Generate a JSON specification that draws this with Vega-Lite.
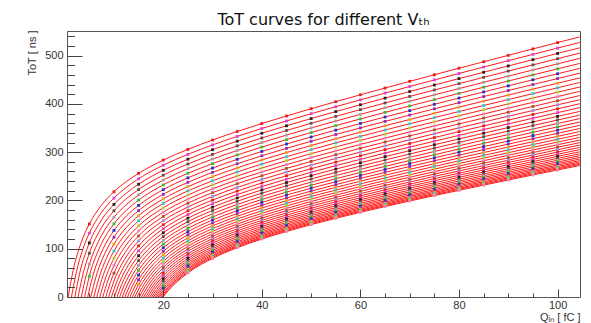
{
"$schema":"https://vega.github.io/schema/vega-lite/v6.json",
"width":513,"height":266,
"autosize":{"type":"none"},
"padding":{"left":67,"top":31,"right":11,"bottom":26},
"background":"white",
"title":{"text":"ToT curves for different Vₜₕ","font":"DejaVu Sans","fontSize":16,"fontWeight":"normal","color":"#111","anchor":"middle","frame":"group","baseline":"alphabetic","offset":8,"dy":19},
"config":{"view":{"stroke":"#555","strokeWidth":1}},
"data":{"values":[
{"vth":0,"q":0.7,"tot":0,"fit":1},{"vth":0,"q":1.7,"tot":54.5,"fit":1},{"vth":0,"q":3.35,"tot":112.9,"fit":1},{"vth":0,"q":5,"tot":151.3},{"vth":0,"q":7.5,"tot":190.6,"fit":1},{"vth":0,"q":10,"tot":218.1},{"vth":0,"q":12.5,"tot":239.1,"fit":1},{"vth":0,"q":15,"tot":256.2},{"vth":0,"q":20,"tot":283.6},{"vth":0,"q":25,"tot":305.8},{"vth":0,"q":30,"tot":325.2},{"vth":0,"q":35,"tot":342.8},{"vth":0,"q":40,"tot":359.3},{"vth":0,"q":45,"tot":374.9},{"vth":0,"q":50,"tot":390},{"vth":0,"q":55,"tot":404.6},{"vth":0,"q":60,"tot":418.9},{"vth":0,"q":65,"tot":432.9},{"vth":0,"q":70,"tot":446.7},{"vth":0,"q":75,"tot":460.4},{"vth":0,"q":80,"tot":473.9},{"vth":0,"q":85,"tot":487.3},{"vth":0,"q":90,"tot":500.6},{"vth":0,"q":95,"tot":513.9},{"vth":0,"q":100,"tot":527},{"vth":0,"q":104.5,"tot":538.8,"fit":1},
{"vth":1,"q":1.38,"tot":0,"fit":1},{"vth":1,"q":2.38,"tot":52.1,"fit":1},{"vth":1,"q":3.7,"tot":99.3,"fit":1},{"vth":1,"q":5,"tot":132.2},{"vth":1,"q":7.5,"tot":175.6,"fit":1},{"vth":1,"q":10,"tot":205},{"vth":1,"q":12.5,"tot":227.1,"fit":1},{"vth":1,"q":15,"tot":244.9},{"vth":1,"q":20,"tot":273},{"vth":1,"q":25,"tot":295.5},{"vth":1,"q":30,"tot":315},{"vth":1,"q":35,"tot":332.7},{"vth":1,"q":40,"tot":349.1},{"vth":1,"q":45,"tot":364.7},{"vth":1,"q":50,"tot":379.7},{"vth":1,"q":55,"tot":394.2},{"vth":1,"q":60,"tot":408.4},{"vth":1,"q":65,"tot":422.4},{"vth":1,"q":70,"tot":436.1},{"vth":1,"q":75,"tot":449.6},{"vth":1,"q":80,"tot":463},{"vth":1,"q":85,"tot":476.3},{"vth":1,"q":90,"tot":489.5},{"vth":1,"q":95,"tot":502.6},{"vth":1,"q":100,"tot":515.6},{"vth":1,"q":104.5,"tot":527.3,"fit":1},
{"vth":2,"q":2.06,"tot":0,"fit":1},{"vth":2,"q":3.06,"tot":50.1,"fit":1},{"vth":2,"q":5,"tot":112},{"vth":2,"q":7.5,"tot":160.1,"fit":1},{"vth":2,"q":10,"tot":191.8},{"vth":2,"q":12.5,"tot":215.2,"fit":1},{"vth":2,"q":15,"tot":233.7},{"vth":2,"q":20,"tot":262.5},{"vth":2,"q":25,"tot":285.4},{"vth":2,"q":30,"tot":305.1},{"vth":2,"q":35,"tot":322.8},{"vth":2,"q":40,"tot":339.2},{"vth":2,"q":45,"tot":354.7},{"vth":2,"q":50,"tot":369.6},{"vth":2,"q":55,"tot":384.1},{"vth":2,"q":60,"tot":398.2},{"vth":2,"q":65,"tot":412},{"vth":2,"q":70,"tot":425.6},{"vth":2,"q":75,"tot":439.1},{"vth":2,"q":80,"tot":452.4},{"vth":2,"q":85,"tot":465.5},{"vth":2,"q":90,"tot":478.6},{"vth":2,"q":95,"tot":491.6},{"vth":2,"q":100,"tot":504.5},{"vth":2,"q":104.5,"tot":516.1,"fit":1},
{"vth":3,"q":2.72,"tot":0,"fit":1},{"vth":3,"q":3.72,"tot":47.7,"fit":1},{"vth":3,"q":5,"tot":90.6},{"vth":3,"q":7.5,"tot":144.3,"fit":1},{"vth":3,"q":10,"tot":178.6},{"vth":3,"q":12.5,"tot":203.3,"fit":1},{"vth":3,"q":15,"tot":222.6},{"vth":3,"q":20,"tot":252.3},{"vth":3,"q":25,"tot":275.5},{"vth":3,"q":30,"tot":295.3},{"vth":3,"q":35,"tot":313},{"vth":3,"q":40,"tot":329.4},{"vth":3,"q":45,"tot":344.9},{"vth":3,"q":50,"tot":359.8},{"vth":3,"q":55,"tot":374.2},{"vth":3,"q":60,"tot":388.2},{"vth":3,"q":65,"tot":401.9},{"vth":3,"q":70,"tot":415.4},{"vth":3,"q":75,"tot":428.8},{"vth":3,"q":80,"tot":441.9},{"vth":3,"q":85,"tot":455},{"vth":3,"q":90,"tot":468},{"vth":3,"q":95,"tot":480.8},{"vth":3,"q":100,"tot":493.6},{"vth":3,"q":104.5,"tot":505.1,"fit":1},
{"vth":4,"q":3.38,"tot":0,"fit":1},{"vth":4,"q":4.38,"tot":45.8,"fit":1},{"vth":4,"q":5,"tot":67.6},{"vth":4,"q":7.5,"tot":128,"fit":1},{"vth":4,"q":10,"tot":165.2},{"vth":4,"q":12.5,"tot":191.4,"fit":1},{"vth":4,"q":15,"tot":211.6},{"vth":4,"q":20,"tot":242.1},{"vth":4,"q":25,"tot":265.8},{"vth":4,"q":30,"tot":285.7},{"vth":4,"q":35,"tot":303.5},{"vth":4,"q":40,"tot":319.9},{"vth":4,"q":45,"tot":335.4},{"vth":4,"q":50,"tot":350.2},{"vth":4,"q":55,"tot":364.5},{"vth":4,"q":60,"tot":378.4},{"vth":4,"q":65,"tot":392},{"vth":4,"q":70,"tot":405.4},{"vth":4,"q":75,"tot":418.7},{"vth":4,"q":80,"tot":431.7},{"vth":4,"q":85,"tot":444.7},{"vth":4,"q":90,"tot":457.5},{"vth":4,"q":95,"tot":470.3},{"vth":4,"q":100,"tot":483},{"vth":4,"q":104.5,"tot":494.3,"fit":1},
{"vth":5,"q":4.03,"tot":0,"fit":1},{"vth":5,"q":5,"tot":42.8},{"vth":5,"q":7.5,"tot":111.1,"fit":1},{"vth":5,"q":10,"tot":151.6},{"vth":5,"q":12.5,"tot":179.5,"fit":1},{"vth":5,"q":15,"tot":200.7},{"vth":5,"q":20,"tot":232.2},{"vth":5,"q":25,"tot":256.2},{"vth":5,"q":30,"tot":276.3},{"vth":5,"q":35,"tot":294.2},{"vth":5,"q":40,"tot":310.6},{"vth":5,"q":45,"tot":326},{"vth":5,"q":50,"tot":340.7},{"vth":5,"q":55,"tot":355},{"vth":5,"q":60,"tot":368.8},{"vth":5,"q":65,"tot":382.4},{"vth":5,"q":70,"tot":395.7},{"vth":5,"q":75,"tot":408.8},{"vth":5,"q":80,"tot":421.8},{"vth":5,"q":85,"tot":434.6},{"vth":5,"q":90,"tot":447.4},{"vth":5,"q":95,"tot":460},{"vth":5,"q":100,"tot":472.6},{"vth":5,"q":104.5,"tot":483.8,"fit":1},
{"vth":6,"q":4.67,"tot":0,"fit":1},{"vth":6,"q":5.67,"tot":42,"fit":1},{"vth":6,"q":7.84,"tot":100.9,"fit":1},{"vth":6,"q":10,"tot":137.9},{"vth":6,"q":12.5,"tot":167.7,"fit":1},{"vth":6,"q":15,"tot":189.8},{"vth":6,"q":20,"tot":222.4},{"vth":6,"q":25,"tot":246.8},{"vth":6,"q":30,"tot":267.1},{"vth":6,"q":35,"tot":285.1},{"vth":6,"q":40,"tot":301.5},{"vth":6,"q":45,"tot":316.9},{"vth":6,"q":50,"tot":331.5},{"vth":6,"q":55,"tot":345.7},{"vth":6,"q":60,"tot":359.5},{"vth":6,"q":65,"tot":372.9},{"vth":6,"q":70,"tot":386.1},{"vth":6,"q":75,"tot":399.2},{"vth":6,"q":80,"tot":412},{"vth":6,"q":85,"tot":424.8},{"vth":6,"q":90,"tot":437.4},{"vth":6,"q":95,"tot":450},{"vth":6,"q":100,"tot":462.4},{"vth":6,"q":104.5,"tot":473.6,"fit":1},
{"vth":7,"q":5.3,"tot":0,"fit":1},{"vth":7,"q":6.3,"tot":40.1,"fit":1},{"vth":7,"q":8.15,"tot":90.3,"fit":1},{"vth":7,"q":10,"tot":123.9},{"vth":7,"q":12.5,"tot":155.8,"fit":1},{"vth":7,"q":15,"tot":179.1},{"vth":7,"q":20,"tot":212.7},{"vth":7,"q":25,"tot":237.6},{"vth":7,"q":30,"tot":258.1},{"vth":7,"q":35,"tot":276.1},{"vth":7,"q":40,"tot":292.6},{"vth":7,"q":45,"tot":307.9},{"vth":7,"q":50,"tot":322.6},{"vth":7,"q":55,"tot":336.6},{"vth":7,"q":60,"tot":350.3},{"vth":7,"q":65,"tot":363.7},{"vth":7,"q":70,"tot":376.8},{"vth":7,"q":75,"tot":389.8},{"vth":7,"q":80,"tot":402.5},{"vth":7,"q":85,"tot":415.2},{"vth":7,"q":90,"tot":427.7},{"vth":7,"q":95,"tot":440.1},{"vth":7,"q":100,"tot":452.5},{"vth":7,"q":104.5,"tot":463.6,"fit":1},
{"vth":8,"q":5.92,"tot":0,"fit":1},{"vth":8,"q":6.92,"tot":38.2,"fit":1},{"vth":8,"q":8.46,"tot":80,"fit":1},{"vth":8,"q":10,"tot":109.7},{"vth":8,"q":12.5,"tot":143.9,"fit":1},{"vth":8,"q":15,"tot":168.4},{"vth":8,"q":20,"tot":203.2},{"vth":8,"q":25,"tot":228.6},{"vth":8,"q":30,"tot":249.3},{"vth":8,"q":35,"tot":267.4},{"vth":8,"q":40,"tot":283.9},{"vth":8,"q":45,"tot":299.2},{"vth":8,"q":50,"tot":313.8},{"vth":8,"q":55,"tot":327.8},{"vth":8,"q":60,"tot":341.4},{"vth":8,"q":65,"tot":354.7},{"vth":8,"q":70,"tot":367.7},{"vth":8,"q":75,"tot":380.6},{"vth":8,"q":80,"tot":393.3},{"vth":8,"q":85,"tot":405.8},{"vth":8,"q":90,"tot":418.2},{"vth":8,"q":95,"tot":430.6},{"vth":8,"q":100,"tot":442.8},{"vth":8,"q":104.5,"tot":453.8,"fit":1},
{"vth":9,"q":6.54,"tot":0,"fit":1},{"vth":9,"q":7.54,"tot":36.7,"fit":1},{"vth":9,"q":8.77,"tot":70,"fit":1},{"vth":9,"q":10,"tot":95.2},{"vth":9,"q":12.5,"tot":132,"fit":1},{"vth":9,"q":15,"tot":157.9},{"vth":9,"q":20,"tot":193.9},{"vth":9,"q":25,"tot":219.8},{"vth":9,"q":30,"tot":240.7},{"vth":9,"q":35,"tot":258.9},{"vth":9,"q":40,"tot":275.4},{"vth":9,"q":45,"tot":290.7},{"vth":9,"q":50,"tot":305.2},{"vth":9,"q":55,"tot":319.2},{"vth":9,"q":60,"tot":332.7},{"vth":9,"q":65,"tot":345.9},{"vth":9,"q":70,"tot":358.9},{"vth":9,"q":75,"tot":371.6},{"vth":9,"q":80,"tot":384.2},{"vth":9,"q":85,"tot":396.7},{"vth":9,"q":90,"tot":409},{"vth":9,"q":95,"tot":421.2},{"vth":9,"q":100,"tot":433.4},{"vth":9,"q":104.5,"tot":444.3,"fit":1},
{"vth":10,"q":7.14,"tot":0,"fit":1},{"vth":10,"q":8.14,"tot":34.9,"fit":1},{"vth":10,"q":10,"tot":80.3},{"vth":10,"q":12.5,"tot":120,"fit":1},{"vth":10,"q":15,"tot":147.4},{"vth":10,"q":20,"tot":184.7},{"vth":10,"q":25,"tot":211.2},{"vth":10,"q":30,"tot":232.3},{"vth":10,"q":35,"tot":250.6},{"vth":10,"q":40,"tot":267.1},{"vth":10,"q":45,"tot":282.4},{"vth":10,"q":50,"tot":296.9},{"vth":10,"q":55,"tot":310.8},{"vth":10,"q":60,"tot":324.3},{"vth":10,"q":65,"tot":337.4},{"vth":10,"q":70,"tot":350.3},{"vth":10,"q":75,"tot":362.9},{"vth":10,"q":80,"tot":375.4},{"vth":10,"q":85,"tot":387.8},{"vth":10,"q":90,"tot":400},{"vth":10,"q":95,"tot":412.1},{"vth":10,"q":100,"tot":424.2},{"vth":10,"q":104.5,"tot":435,"fit":1},
{"vth":11,"q":7.74,"tot":0,"fit":1},{"vth":11,"q":8.74,"tot":33.4,"fit":1},{"vth":11,"q":10,"tot":65.1},{"vth":11,"q":12.5,"tot":108,"fit":1},{"vth":11,"q":15,"tot":136.9},{"vth":11,"q":20,"tot":175.7},{"vth":11,"q":25,"tot":202.7},{"vth":11,"q":30,"tot":224.1},{"vth":11,"q":35,"tot":242.5},{"vth":11,"q":40,"tot":259},{"vth":11,"q":45,"tot":274.3},{"vth":11,"q":50,"tot":288.8},{"vth":11,"q":55,"tot":302.6},{"vth":11,"q":60,"tot":316},{"vth":11,"q":65,"tot":329.1},{"vth":11,"q":70,"tot":341.8},{"vth":11,"q":75,"tot":354.4},{"vth":11,"q":80,"tot":366.8},{"vth":11,"q":85,"tot":379.1},{"vth":11,"q":90,"tot":391.2},{"vth":11,"q":95,"tot":403.3},{"vth":11,"q":100,"tot":415.2},{"vth":11,"q":104.5,"tot":425.9,"fit":1},
{"vth":12,"q":8.33,"tot":0,"fit":1},{"vth":12,"q":9.33,"tot":32,"fit":1},{"vth":12,"q":10,"tot":49.3},{"vth":12,"q":12.5,"tot":95.8,"fit":1},{"vth":12,"q":15,"tot":126.5},{"vth":12,"q":20,"tot":166.9},{"vth":12,"q":25,"tot":194.4},{"vth":12,"q":30,"tot":216.1},{"vth":12,"q":35,"tot":234.6},{"vth":12,"q":40,"tot":251.2},{"vth":12,"q":45,"tot":266.4},{"vth":12,"q":50,"tot":280.8},{"vth":12,"q":55,"tot":294.6},{"vth":12,"q":60,"tot":308},{"vth":12,"q":65,"tot":321},{"vth":12,"q":70,"tot":333.7},{"vth":12,"q":75,"tot":346.2},{"vth":12,"q":80,"tot":358.5},{"vth":12,"q":85,"tot":370.7},{"vth":12,"q":90,"tot":382.7},{"vth":12,"q":95,"tot":394.7},{"vth":12,"q":100,"tot":406.5},{"vth":12,"q":104.5,"tot":417.2,"fit":1},
{"vth":13,"q":8.92,"tot":0,"fit":1},{"vth":13,"q":9.92,"tot":30.9,"fit":1},{"vth":13,"q":12.45,"tot":82.8,"fit":1},{"vth":13,"q":15,"tot":116.2},{"vth":13,"q":20,"tot":158.2},{"vth":13,"q":25,"tot":186.4},{"vth":13,"q":30,"tot":208.3},{"vth":13,"q":35,"tot":226.9},{"vth":13,"q":40,"tot":243.5},{"vth":13,"q":45,"tot":258.8},{"vth":13,"q":50,"tot":273.2},{"vth":13,"q":55,"tot":286.9},{"vth":13,"q":60,"tot":300.2},{"vth":13,"q":65,"tot":313.1},{"vth":13,"q":70,"tot":325.7},{"vth":13,"q":75,"tot":338.1},{"vth":13,"q":80,"tot":350.4},{"vth":13,"q":85,"tot":362.4},{"vth":13,"q":90,"tot":374.4},{"vth":13,"q":95,"tot":386.3},{"vth":13,"q":100,"tot":398.1},{"vth":13,"q":104.5,"tot":408.6,"fit":1},
{"vth":14,"q":9.49,"tot":0,"fit":1},{"vth":14,"q":10.49,"tot":29.5,"fit":1},{"vth":14,"q":12.75,"tot":75.5,"fit":1},{"vth":14,"q":15,"tot":106},{"vth":14,"q":17.5,"tot":130.6,"fit":1},{"vth":14,"q":20,"tot":149.7},{"vth":14,"q":25,"tot":178.5},{"vth":14,"q":30,"tot":200.7},{"vth":14,"q":35,"tot":219.4},{"vth":14,"q":40,"tot":236.1},{"vth":14,"q":45,"tot":251.3},{"vth":14,"q":50,"tot":265.7},{"vth":14,"q":55,"tot":279.4},{"vth":14,"q":60,"tot":292.6},{"vth":14,"q":65,"tot":305.4},{"vth":14,"q":70,"tot":318},{"vth":14,"q":75,"tot":330.3},{"vth":14,"q":80,"tot":342.5},{"vth":14,"q":85,"tot":354.5},{"vth":14,"q":90,"tot":366.4},{"vth":14,"q":95,"tot":378.2},{"vth":14,"q":100,"tot":389.8},{"vth":14,"q":104.5,"tot":400.3,"fit":1},
{"vth":15,"q":10.05,"tot":0,"fit":1},{"vth":15,"q":11.05,"tot":28.1,"fit":1},{"vth":15,"q":13,"tot":67.5,"fit":1},{"vth":15,"q":15,"tot":95.8},{"vth":15,"q":17.5,"tot":121.6,"fit":1},{"vth":15,"q":20,"tot":141.3},{"vth":15,"q":25,"tot":170.8},{"vth":15,"q":30,"tot":193.3},{"vth":15,"q":35,"tot":212.2},{"vth":15,"q":40,"tot":228.8},{"vth":15,"q":45,"tot":244.1},{"vth":15,"q":50,"tot":258.4},{"vth":15,"q":55,"tot":272.1},{"vth":15,"q":60,"tot":285.2},{"vth":15,"q":65,"tot":298},{"vth":15,"q":70,"tot":310.5},{"vth":15,"q":75,"tot":322.7},{"vth":15,"q":80,"tot":334.8},{"vth":15,"q":85,"tot":346.8},{"vth":15,"q":90,"tot":358.6},{"vth":15,"q":95,"tot":370.3},{"vth":15,"q":100,"tot":381.9},{"vth":15,"q":104.5,"tot":392.3,"fit":1},
{"vth":16,"q":10.61,"tot":0,"fit":1},{"vth":16,"q":11.61,"tot":27.1,"fit":1},{"vth":16,"q":13.3,"tot":60.8,"fit":1},{"vth":16,"q":15,"tot":85.6},{"vth":16,"q":17.5,"tot":112.7,"fit":1},{"vth":16,"q":20,"tot":133.1},{"vth":16,"q":25,"tot":163.3},{"vth":16,"q":30,"tot":186.1},{"vth":16,"q":35,"tot":205.1},{"vth":16,"q":40,"tot":221.8},{"vth":16,"q":45,"tot":237.1},{"vth":16,"q":50,"tot":251.4},{"vth":16,"q":55,"tot":265},{"vth":16,"q":60,"tot":278.1},{"vth":16,"q":65,"tot":290.8},{"vth":16,"q":70,"tot":303.2},{"vth":16,"q":75,"tot":315.4},{"vth":16,"q":80,"tot":327.4},{"vth":16,"q":85,"tot":339.3},{"vth":16,"q":90,"tot":351},{"vth":16,"q":95,"tot":362.6},{"vth":16,"q":100,"tot":374.1},{"vth":16,"q":104.5,"tot":384.4,"fit":1},
{"vth":17,"q":11.15,"tot":0,"fit":1},{"vth":17,"q":12.15,"tot":25.8,"fit":1},{"vth":17,"q":13.6,"tot":54.4,"fit":1},{"vth":17,"q":15,"tot":75.5},{"vth":17,"q":17.5,"tot":103.9,"fit":1},{"vth":17,"q":20,"tot":125.1},{"vth":17,"q":25,"tot":156},{"vth":17,"q":30,"tot":179.2},{"vth":17,"q":35,"tot":198.2},{"vth":17,"q":40,"tot":215},{"vth":17,"q":45,"tot":230.3},{"vth":17,"q":50,"tot":244.5},{"vth":17,"q":55,"tot":258.1},{"vth":17,"q":60,"tot":271.2},{"vth":17,"q":65,"tot":283.8},{"vth":17,"q":70,"tot":296.2},{"vth":17,"q":75,"tot":308.3},{"vth":17,"q":80,"tot":320.2},{"vth":17,"q":85,"tot":332},{"vth":17,"q":90,"tot":343.6},{"vth":17,"q":95,"tot":355.2},{"vth":17,"q":100,"tot":366.6},{"vth":17,"q":104.5,"tot":376.9,"fit":1},
{"vth":18,"q":11.69,"tot":0,"fit":1},{"vth":18,"q":12.69,"tot":24.8,"fit":1},{"vth":18,"q":15,"tot":65.5},{"vth":18,"q":17.5,"tot":95.3,"fit":1},{"vth":18,"q":20,"tot":117.2},{"vth":18,"q":25,"tot":148.9},{"vth":18,"q":30,"tot":172.4},{"vth":18,"q":35,"tot":191.6},{"vth":18,"q":40,"tot":208.4},{"vth":18,"q":45,"tot":223.7},{"vth":18,"q":50,"tot":237.9},{"vth":18,"q":55,"tot":251.5},{"vth":18,"q":60,"tot":264.5},{"vth":18,"q":65,"tot":277.1},{"vth":18,"q":70,"tot":289.4},{"vth":18,"q":75,"tot":301.4},{"vth":18,"q":80,"tot":313.3},{"vth":18,"q":85,"tot":325},{"vth":18,"q":90,"tot":336.5},{"vth":18,"q":95,"tot":348},{"vth":18,"q":100,"tot":359.4},{"vth":18,"q":104.5,"tot":369.5,"fit":1},
{"vth":19,"q":12.22,"tot":0,"fit":1},{"vth":19,"q":13.22,"tot":23.8,"fit":1},{"vth":19,"q":15,"tot":55.5},{"vth":19,"q":17.5,"tot":86.8,"fit":1},{"vth":19,"q":20,"tot":109.5},{"vth":19,"q":25,"tot":142},{"vth":19,"q":30,"tot":165.8},{"vth":19,"q":35,"tot":185.2},{"vth":19,"q":40,"tot":202},{"vth":19,"q":45,"tot":217.3},{"vth":19,"q":50,"tot":231.5},{"vth":19,"q":55,"tot":245},{"vth":19,"q":60,"tot":258},{"vth":19,"q":65,"tot":270.5},{"vth":19,"q":70,"tot":282.8},{"vth":19,"q":75,"tot":294.7},{"vth":19,"q":80,"tot":306.5},{"vth":19,"q":85,"tot":318.2},{"vth":19,"q":90,"tot":329.7},{"vth":19,"q":95,"tot":341.1},{"vth":19,"q":100,"tot":352.4},{"vth":19,"q":104.5,"tot":362.5,"fit":1},
{"vth":20,"q":12.73,"tot":0,"fit":1},{"vth":20,"q":13.73,"tot":22.7,"fit":1},{"vth":20,"q":15,"tot":45.6},{"vth":20,"q":17.5,"tot":78.4,"fit":1},{"vth":20,"q":20,"tot":102},{"vth":20,"q":25,"tot":135.3},{"vth":20,"q":30,"tot":159.4},{"vth":20,"q":35,"tot":178.9},{"vth":20,"q":40,"tot":195.9},{"vth":20,"q":45,"tot":211.2},{"vth":20,"q":50,"tot":225.4},{"vth":20,"q":55,"tot":238.8},{"vth":20,"q":60,"tot":251.7},{"vth":20,"q":65,"tot":264.2},{"vth":20,"q":70,"tot":276.4},{"vth":20,"q":75,"tot":288.3},{"vth":20,"q":80,"tot":300},{"vth":20,"q":85,"tot":311.6},{"vth":20,"q":90,"tot":323},{"vth":20,"q":95,"tot":334.4},{"vth":20,"q":100,"tot":345.6},{"vth":20,"q":104.5,"tot":355.6,"fit":1},
{"vth":21,"q":13.24,"tot":0,"fit":1},{"vth":21,"q":14.24,"tot":21.9,"fit":1},{"vth":21,"q":15,"tot":35.7},{"vth":21,"q":17.5,"tot":70.2,"fit":1},{"vth":21,"q":20,"tot":94.7},{"vth":21,"q":25,"tot":128.8},{"vth":21,"q":30,"tot":153.3},{"vth":21,"q":35,"tot":172.9},{"vth":21,"q":40,"tot":189.9},{"vth":21,"q":45,"tot":205.2},{"vth":21,"q":50,"tot":219.4},{"vth":21,"q":55,"tot":232.8},{"vth":21,"q":60,"tot":245.7},{"vth":21,"q":65,"tot":258.1},{"vth":21,"q":70,"tot":270.3},{"vth":21,"q":75,"tot":282.1},{"vth":21,"q":80,"tot":293.8},{"vth":21,"q":85,"tot":305.3},{"vth":21,"q":90,"tot":316.7},{"vth":21,"q":95,"tot":327.9},{"vth":21,"q":100,"tot":339.1},{"vth":21,"q":104.5,"tot":349,"fit":1},
{"vth":22,"q":13.74,"tot":0,"fit":1},{"vth":22,"q":15,"tot":25.9},{"vth":22,"q":17.5,"tot":62.2,"fit":1},{"vth":22,"q":20,"tot":87.6},{"vth":22,"q":25,"tot":122.5},{"vth":22,"q":30,"tot":147.3},{"vth":22,"q":35,"tot":167.1},{"vth":22,"q":40,"tot":184.2},{"vth":22,"q":45,"tot":199.5},{"vth":22,"q":50,"tot":213.7},{"vth":22,"q":55,"tot":227.1},{"vth":22,"q":60,"tot":239.9},{"vth":22,"q":65,"tot":252.3},{"vth":22,"q":70,"tot":264.3},{"vth":22,"q":75,"tot":276.2},{"vth":22,"q":80,"tot":287.8},{"vth":22,"q":85,"tot":299.2},{"vth":22,"q":90,"tot":310.5},{"vth":22,"q":95,"tot":321.7},{"vth":22,"q":100,"tot":332.8},{"vth":22,"q":104.5,"tot":342.7,"fit":1},
{"vth":23,"q":14.22,"tot":0,"fit":1},{"vth":23,"q":15.22,"tot":20.2,"fit":1},{"vth":23,"q":17.61,"tot":55.6,"fit":1},{"vth":23,"q":20,"tot":80.6},{"vth":23,"q":25,"tot":116.4},{"vth":23,"q":30,"tot":141.6},{"vth":23,"q":35,"tot":161.6},{"vth":23,"q":40,"tot":178.6},{"vth":23,"q":45,"tot":194},{"vth":23,"q":50,"tot":208.2},{"vth":23,"q":55,"tot":221.5},{"vth":23,"q":60,"tot":234.3},{"vth":23,"q":65,"tot":246.6},{"vth":23,"q":70,"tot":258.7},{"vth":23,"q":75,"tot":270.4},{"vth":23,"q":80,"tot":282},{"vth":23,"q":85,"tot":293.3},{"vth":23,"q":90,"tot":304.6},{"vth":23,"q":95,"tot":315.7},{"vth":23,"q":100,"tot":326.7},{"vth":23,"q":104.5,"tot":336.6,"fit":1},
{"vth":24,"q":14.7,"tot":0,"fit":1},{"vth":24,"q":15.7,"tot":19.5,"fit":1},{"vth":24,"q":17.85,"tot":50.9,"fit":1},{"vth":24,"q":20,"tot":73.8},{"vth":24,"q":25,"tot":110.6},{"vth":24,"q":30,"tot":136},{"vth":24,"q":35,"tot":156.2},{"vth":24,"q":40,"tot":173.3},{"vth":24,"q":45,"tot":188.7},{"vth":24,"q":50,"tot":202.9},{"vth":24,"q":55,"tot":216.2},{"vth":24,"q":60,"tot":228.9},{"vth":24,"q":65,"tot":241.2},{"vth":24,"q":70,"tot":253.2},{"vth":24,"q":75,"tot":264.9},{"vth":24,"q":80,"tot":276.4},{"vth":24,"q":85,"tot":287.7},{"vth":24,"q":90,"tot":298.9},{"vth":24,"q":95,"tot":310},{"vth":24,"q":100,"tot":320.9},{"vth":24,"q":104.5,"tot":330.7,"fit":1},
{"vth":25,"q":15.16,"tot":0,"fit":1},{"vth":25,"q":16.16,"tot":18.8,"fit":1},{"vth":25,"q":18.08,"tot":46.4,"fit":1},{"vth":25,"q":20,"tot":67.3},{"vth":25,"q":25,"tot":104.9},{"vth":25,"q":30,"tot":130.7},{"vth":25,"q":35,"tot":151},{"vth":25,"q":40,"tot":168.3},{"vth":25,"q":45,"tot":183.6},{"vth":25,"q":50,"tot":197.8},{"vth":25,"q":55,"tot":211.1},{"vth":25,"q":60,"tot":223.8},{"vth":25,"q":65,"tot":236.1},{"vth":25,"q":70,"tot":248},{"vth":25,"q":75,"tot":259.6},{"vth":25,"q":80,"tot":271.1},{"vth":25,"q":85,"tot":282.3},{"vth":25,"q":90,"tot":293.5},{"vth":25,"q":95,"tot":304.5},{"vth":25,"q":100,"tot":315.4},{"vth":25,"q":104.5,"tot":325.1,"fit":1},
{"vth":26,"q":15.61,"tot":0,"fit":1},{"vth":26,"q":16.61,"tot":18.1,"fit":1},{"vth":26,"q":18.3,"tot":42.1,"fit":1},{"vth":26,"q":20,"tot":60.9},{"vth":26,"q":25,"tot":99.5},{"vth":26,"q":30,"tot":125.7},{"vth":26,"q":35,"tot":146.1},{"vth":26,"q":40,"tot":163.4},{"vth":26,"q":45,"tot":178.8},{"vth":26,"q":50,"tot":192.9},{"vth":26,"q":55,"tot":206.2},{"vth":26,"q":60,"tot":218.9},{"vth":26,"q":65,"tot":231.1},{"vth":26,"q":70,"tot":243},{"vth":26,"q":75,"tot":254.6},{"vth":26,"q":80,"tot":266},{"vth":26,"q":85,"tot":277.2},{"vth":26,"q":90,"tot":288.3},{"vth":26,"q":95,"tot":299.2},{"vth":26,"q":100,"tot":310.1},{"vth":26,"q":104.5,"tot":319.8,"fit":1},
{"vth":27,"q":16.04,"tot":0,"fit":1},{"vth":27,"q":17.04,"tot":17.4,"fit":1},{"vth":27,"q":20,"tot":54.8},{"vth":27,"q":25,"tot":94.2},{"vth":27,"q":30,"tot":120.8},{"vth":27,"q":35,"tot":141.4},{"vth":27,"q":40,"tot":158.7},{"vth":27,"q":45,"tot":174.1},{"vth":27,"q":50,"tot":188.3},{"vth":27,"q":55,"tot":201.6},{"vth":27,"q":60,"tot":214.2},{"vth":27,"q":65,"tot":226.4},{"vth":27,"q":70,"tot":238.2},{"vth":27,"q":75,"tot":249.8},{"vth":27,"q":80,"tot":261.1},{"vth":27,"q":85,"tot":272.3},{"vth":27,"q":90,"tot":283.3},{"vth":27,"q":95,"tot":294.2},{"vth":27,"q":100,"tot":305},{"vth":27,"q":104.5,"tot":314.7,"fit":1},
{"vth":28,"q":16.46,"tot":0,"fit":1},{"vth":28,"q":17.46,"tot":16.8,"fit":1},{"vth":28,"q":20,"tot":48.9},{"vth":28,"q":25,"tot":89.2},{"vth":28,"q":30,"tot":116.1},{"vth":28,"q":35,"tot":136.9},{"vth":28,"q":40,"tot":154.3},{"vth":28,"q":45,"tot":169.7},{"vth":28,"q":50,"tot":183.9},{"vth":28,"q":55,"tot":197.1},{"vth":28,"q":60,"tot":209.7},{"vth":28,"q":65,"tot":221.9},{"vth":28,"q":70,"tot":233.7},{"vth":28,"q":75,"tot":245.2},{"vth":28,"q":80,"tot":256.5},{"vth":28,"q":85,"tot":267.6},{"vth":28,"q":90,"tot":278.6},{"vth":28,"q":95,"tot":289.4},{"vth":28,"q":100,"tot":300.2},{"vth":28,"q":104.5,"tot":309.8,"fit":1},
{"vth":29,"q":16.87,"tot":0,"fit":1},{"vth":29,"q":17.87,"tot":16.3,"fit":1},{"vth":29,"q":20,"tot":43.2},{"vth":29,"q":25,"tot":84.5},{"vth":29,"q":30,"tot":111.7},{"vth":29,"q":35,"tot":132.6},{"vth":29,"q":40,"tot":150.1},{"vth":29,"q":45,"tot":165.5},{"vth":29,"q":50,"tot":179.7},{"vth":29,"q":55,"tot":192.9},{"vth":29,"q":60,"tot":205.5},{"vth":29,"q":65,"tot":217.6},{"vth":29,"q":70,"tot":229.4},{"vth":29,"q":75,"tot":240.8},{"vth":29,"q":80,"tot":252.1},{"vth":29,"q":85,"tot":263.2},{"vth":29,"q":90,"tot":274.1},{"vth":29,"q":95,"tot":284.9},{"vth":29,"q":100,"tot":295.6},{"vth":29,"q":104.5,"tot":305.2,"fit":1},
{"vth":30,"q":17.26,"tot":0,"fit":1},{"vth":30,"q":18.26,"tot":15.7,"fit":1},{"vth":30,"q":20,"tot":37.7},{"vth":30,"q":25,"tot":79.9},{"vth":30,"q":30,"tot":107.5},{"vth":30,"q":35,"tot":128.5},{"vth":30,"q":40,"tot":146.1},{"vth":30,"q":45,"tot":161.6},{"vth":30,"q":50,"tot":175.7},{"vth":30,"q":55,"tot":188.9},{"vth":30,"q":60,"tot":201.5},{"vth":30,"q":65,"tot":213.6},{"vth":30,"q":70,"tot":225.3},{"vth":30,"q":75,"tot":236.7},{"vth":30,"q":80,"tot":247.9},{"vth":30,"q":85,"tot":259},{"vth":30,"q":90,"tot":269.8},{"vth":30,"q":95,"tot":280.6},{"vth":30,"q":100,"tot":291.3},{"vth":30,"q":104.5,"tot":300.8,"fit":1},
{"vth":31,"q":17.64,"tot":0,"fit":1},{"vth":31,"q":18.64,"tot":15.3,"fit":1},{"vth":31,"q":20,"tot":32.5},{"vth":31,"q":25,"tot":75.6},{"vth":31,"q":30,"tot":103.5},{"vth":31,"q":35,"tot":124.7},{"vth":31,"q":40,"tot":142.3},{"vth":31,"q":45,"tot":157.8},{"vth":31,"q":50,"tot":171.9},{"vth":31,"q":55,"tot":185.1},{"vth":31,"q":60,"tot":197.7},{"vth":31,"q":65,"tot":209.7},{"vth":31,"q":70,"tot":221.4},{"vth":31,"q":75,"tot":232.8},{"vth":31,"q":80,"tot":244},{"vth":31,"q":85,"tot":255},{"vth":31,"q":90,"tot":265.8},{"vth":31,"q":95,"tot":276.5},{"vth":31,"q":100,"tot":287.2},{"vth":31,"q":104.5,"tot":296.6,"fit":1},
{"vth":32,"q":18,"tot":0,"fit":1},{"vth":32,"q":19,"tot":14.9,"fit":1},{"vth":32,"q":20,"tot":27.5},{"vth":32,"q":25,"tot":71.5},{"vth":32,"q":30,"tot":99.8},{"vth":32,"q":35,"tot":121.1},{"vth":32,"q":40,"tot":138.8},{"vth":32,"q":45,"tot":154.3},{"vth":32,"q":50,"tot":168.4},{"vth":32,"q":55,"tot":181.6},{"vth":32,"q":60,"tot":194.1},{"vth":32,"q":65,"tot":206.1},{"vth":32,"q":70,"tot":217.8},{"vth":32,"q":75,"tot":229.2},{"vth":32,"q":80,"tot":240.3},{"vth":32,"q":85,"tot":251.2},{"vth":32,"q":90,"tot":262.1},{"vth":32,"q":95,"tot":272.7},{"vth":32,"q":100,"tot":283.3},{"vth":32,"q":104.5,"tot":292.7,"fit":1},
{"vth":33,"q":18.33,"tot":0,"fit":1},{"vth":33,"q":19.33,"tot":14.4,"fit":1},{"vth":33,"q":20,"tot":22.8},{"vth":33,"q":25,"tot":67.7},{"vth":33,"q":30,"tot":96.2},{"vth":33,"q":35,"tot":117.7},{"vth":33,"q":40,"tot":135.4},{"vth":33,"q":45,"tot":151},{"vth":33,"q":50,"tot":165.1},{"vth":33,"q":55,"tot":178.3},{"vth":33,"q":60,"tot":190.8},{"vth":33,"q":65,"tot":202.8},{"vth":33,"q":70,"tot":214.4},{"vth":33,"q":75,"tot":225.7},{"vth":33,"q":80,"tot":236.8},{"vth":33,"q":85,"tot":247.7},{"vth":33,"q":90,"tot":258.5},{"vth":33,"q":95,"tot":269.2},{"vth":33,"q":100,"tot":279.7},{"vth":33,"q":104.5,"tot":289.1,"fit":1},
{"vth":34,"q":18.66,"tot":0,"fit":1},{"vth":34,"q":19.66,"tot":14.1,"fit":1},{"vth":34,"q":20,"tot":18.4},{"vth":34,"q":25,"tot":64.1},{"vth":34,"q":30,"tot":92.9},{"vth":34,"q":35,"tot":114.5},{"vth":34,"q":40,"tot":132.3},{"vth":34,"q":45,"tot":147.9},{"vth":34,"q":50,"tot":162},{"vth":34,"q":55,"tot":175.2},{"vth":34,"q":60,"tot":187.6},{"vth":34,"q":65,"tot":199.6},{"vth":34,"q":70,"tot":211.2},{"vth":34,"q":75,"tot":222.5},{"vth":34,"q":80,"tot":233.6},{"vth":34,"q":85,"tot":244.5},{"vth":34,"q":90,"tot":255.2},{"vth":34,"q":95,"tot":265.8},{"vth":34,"q":100,"tot":276.3},{"vth":34,"q":104.5,"tot":285.7,"fit":1},
{"vth":35,"q":18.96,"tot":0,"fit":1},{"vth":35,"q":19.96,"tot":13.7,"fit":1},{"vth":35,"q":25,"tot":60.7},{"vth":35,"q":30,"tot":89.9},{"vth":35,"q":35,"tot":111.6},{"vth":35,"q":40,"tot":129.4},{"vth":35,"q":45,"tot":145},{"vth":35,"q":50,"tot":159.1},{"vth":35,"q":55,"tot":172.3},{"vth":35,"q":60,"tot":184.7},{"vth":35,"q":65,"tot":196.7},{"vth":35,"q":70,"tot":208.3},{"vth":35,"q":75,"tot":219.5},{"vth":35,"q":80,"tot":230.6},{"vth":35,"q":85,"tot":241.5},{"vth":35,"q":90,"tot":252.2},{"vth":35,"q":95,"tot":262.7},{"vth":35,"q":100,"tot":273.2},{"vth":35,"q":104.5,"tot":282.5,"fit":1},
{"vth":36,"q":19.24,"tot":0,"fit":1},{"vth":36,"q":20.24,"tot":13.3,"fit":1},{"vth":36,"q":25,"tot":57.6},{"vth":36,"q":30,"tot":87},{"vth":36,"q":35,"tot":108.9},{"vth":36,"q":40,"tot":126.8},{"vth":36,"q":45,"tot":142.3},{"vth":36,"q":50,"tot":156.5},{"vth":36,"q":55,"tot":169.6},{"vth":36,"q":60,"tot":182.1},{"vth":36,"q":65,"tot":194},{"vth":36,"q":70,"tot":205.6},{"vth":36,"q":75,"tot":216.8},{"vth":36,"q":80,"tot":227.8},{"vth":36,"q":85,"tot":238.7},{"vth":36,"q":90,"tot":249.3},{"vth":36,"q":95,"tot":259.9},{"vth":36,"q":100,"tot":270.3},{"vth":36,"q":104.5,"tot":279.6,"fit":1},
{"vth":37,"q":19.51,"tot":0,"fit":1},{"vth":37,"q":20.51,"tot":13.1,"fit":1},{"vth":37,"q":25,"tot":54.7},{"vth":37,"q":30,"tot":84.4},{"vth":37,"q":35,"tot":106.4},{"vth":37,"q":40,"tot":124.3},{"vth":37,"q":45,"tot":139.9},{"vth":37,"q":50,"tot":154.1},{"vth":37,"q":55,"tot":167.2},{"vth":37,"q":60,"tot":179.6},{"vth":37,"q":65,"tot":191.5},{"vth":37,"q":70,"tot":203.1},{"vth":37,"q":75,"tot":214.3},{"vth":37,"q":80,"tot":225.3},{"vth":37,"q":85,"tot":236.1},{"vth":37,"q":90,"tot":246.7},{"vth":37,"q":95,"tot":257.3},{"vth":37,"q":100,"tot":267.7},{"vth":37,"q":104.5,"tot":277,"fit":1},
{"vth":38,"q":19.75,"tot":0,"fit":1},{"vth":38,"q":20.75,"tot":12.9,"fit":1},{"vth":38,"q":25,"tot":52.1},{"vth":38,"q":30,"tot":82.1},{"vth":38,"q":35,"tot":104.1},{"vth":38,"q":40,"tot":122.1},{"vth":38,"q":45,"tot":137.7},{"vth":38,"q":50,"tot":151.9},{"vth":38,"q":55,"tot":165},{"vth":38,"q":60,"tot":177.4},{"vth":38,"q":65,"tot":189.3},{"vth":38,"q":70,"tot":200.8},{"vth":38,"q":75,"tot":212},{"vth":38,"q":80,"tot":223},{"vth":38,"q":85,"tot":233.8},{"vth":38,"q":90,"tot":244.4},{"vth":38,"q":95,"tot":254.9},{"vth":38,"q":100,"tot":265.3},{"vth":38,"q":104.5,"tot":274.6,"fit":1},
{"vth":39,"q":19.97,"tot":0,"fit":1},{"vth":39,"q":20.97,"tot":12.7,"fit":1},{"vth":39,"q":25,"tot":49.8},{"vth":39,"q":30,"tot":79.9},{"vth":39,"q":35,"tot":102.1},{"vth":39,"q":40,"tot":120.1},{"vth":39,"q":45,"tot":135.7},{"vth":39,"q":50,"tot":149.9},{"vth":39,"q":55,"tot":163},{"vth":39,"q":60,"tot":175.4},{"vth":39,"q":65,"tot":187.3},{"vth":39,"q":70,"tot":198.8},{"vth":39,"q":75,"tot":210},{"vth":39,"q":80,"tot":220.9},{"vth":39,"q":85,"tot":231.7},{"vth":39,"q":90,"tot":242.3},{"vth":39,"q":95,"tot":252.8},{"vth":39,"q":100,"tot":263.1},{"vth":39,"q":104.5,"tot":272.4,"fit":1}
]},
"encoding":{
"x":{"field":"q","type":"quantitative","scale":{"domain":[0.47,104.55],"nice":false,"zero":false},
"axis":{"values":[5,10,15,20,25,30,35,40,45,50,55,60,65,70,75,80,85,90,95,100],"grid":false,"domain":false,"zindex":1,
"tickColor":"#444","tickWidth":1,
"tickSize":{"condition":{"test":"datum.value % 20 === 0","value":-8},"value":-4},
"labelExpr":"datum.value % 20 === 0 ? datum.label : ''",
"labelPadding":10.5,"labelFont":"Liberation Sans","labelFontSize":11,"labelColor":"#333","labelFlush":false,"labelOverlap":false,
"title":"Qᵢₙ [ fC ]","titleFont":"Liberation Sans","titleFontSize":11,"titleFontWeight":"normal","titleColor":"#333",
"titleX":513,"titleY":23,"titleAlign":"right","titleBaseline":"alphabetic","titleAngle":0}},
"y":{"field":"tot","type":"quantitative","scale":{"domain":[0,551],"nice":false},
"axis":{"values":[0,20,40,60,80,100,120,140,160,180,200,220,240,260,280,300,320,340,360,380,400,420,440,460,480,500,520,540],"grid":false,"domain":false,"zindex":1,
"tickColor":"#444","tickWidth":1,
"tickSize":{"condition":{"test":"datum.value % 100 === 0","value":-15},"value":-7.5},
"labelExpr":"datum.value % 100 === 0 ? datum.label : ''",
"labelPadding":19,"labelFont":"Liberation Sans","labelFontSize":11,"labelColor":"#333","labelFlush":false,"labelOverlap":false,
"title":"ToT [ ns ]","titleFont":"Liberation Sans","titleFontSize":11,"titleFontWeight":"normal","titleColor":"#333",
"titleX":-35,"titleY":-1,"titleAngle":270,"titleAlign":"right","titleBaseline":"middle"}}
},
"layer":[
{"mark":{"type":"line","color":"#ff1a1a","strokeWidth":1,"interpolate":"monotone","clip":true},
"encoding":{"detail":{"field":"vth","type":"nominal"}}},
{"transform":[{"filter":"!datum.fit"}],
"mark":{"type":"square","size":8,"opacity":1,"filled":true,"clip":true},
"encoding":{"color":{"field":"vth","type":"nominal","legend":null,
"scale":{"domain":[0,1,2,3,4,5,6,7,8,9,10,11,12,13,14,15,16,17,18,19,20,21,22,23,24,25,26,27,28,29,30,31,32,33,34,35,36,37,38,39],
"range":["#e8201c","#e040e0","#222222","#555555","#a0a0a0","#30c030","#2030d0","#8a30c0","#f0a020","#30c8d0","#b0d030","#f080c0","#a05a30","#9090f0"]}}}}
]
}
